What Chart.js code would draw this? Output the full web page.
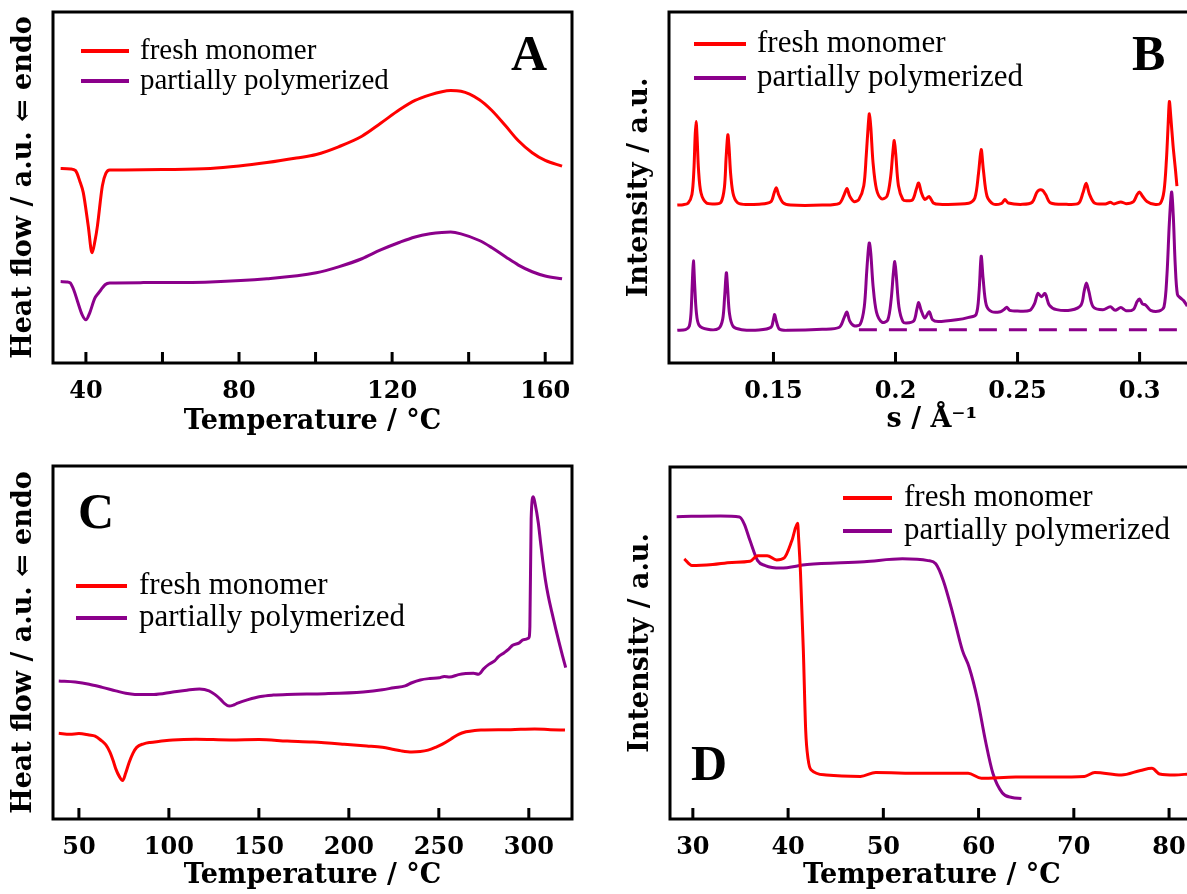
<!DOCTYPE html>
<html>
<head>
<meta charset="utf-8">
<title>DSC / SAXS panels</title>
<script src="https://cdn.jsdelivr.net/npm/chart.js@4.4.1/dist/chart.umd.min.js"></script>
<style>
  html, body { margin: 0; padding: 0; background: #fff; overflow: hidden; width: 1187px; height: 894px; }
  canvas { position: absolute; }
</style>
</head>
<body>
<canvas id="chartA" width="600" height="450" style="left:0;top:0"></canvas>
<canvas id="chartB" width="600" height="450" style="left:600px;top:0"></canvas>
<canvas id="chartC" width="600" height="444" style="left:0;top:450px"></canvas>
<canvas id="chartD" width="600" height="444" style="left:600px;top:450px"></canvas>
<script>
// labels
const seriesNames = ["fresh monomer", "partially polymerized"];
const RED = "#ff0000";
const PURPLE = "#8b008b";

// panel A - DSC, temperature (°C) vs heat flow (a.u.)
const aFreshT = [33.4, 36.0, 37.3, 38.5, 39.3, 40.6, 41.6, 42.4, 43.0, 44.3, 45.2, 46.2, 50, 60, 72.5, 80, 87.3, 95, 100.2, 106, 112.1, 117, 122, 126, 129.9, 133, 135.3, 138, 142.8, 146, 149.7, 153, 156.6, 160, 164.4];
const aFreshY = [55.4, 55.3, 54.8, 51.5, 48.6, 39.1, 31.4, 35.0, 39.0, 50.5, 54.0, 55.0, 55.0, 55.1, 55.4, 56.1, 57.1, 58.4, 59.4, 61.6, 64.6, 68.3, 72.2, 74.8, 76.4, 77.3, 77.6, 77.4, 75.0, 72.0, 67.5, 63.3, 59.9, 57.7, 56.1];
const aPartT = [33.4, 35.0, 35.9, 36.9, 37.8, 39.0, 40.0, 41.0, 42.3, 43.2, 43.9, 45.0, 46.2, 55, 72.5, 87.3, 100.2, 106, 112.1, 117, 122, 126, 129.9, 133, 135.3, 138, 142.8, 146, 149.7, 153, 156.6, 160, 164.4];
const aPartY = [23.2, 23.1, 22.8, 20.6, 17.6, 13.8, 12.3, 14.3, 18.4, 19.8, 20.8, 22.3, 22.8, 22.9, 23.1, 24.0, 25.7, 27.4, 29.7, 32.2, 34.4, 35.9, 36.8, 37.2, 37.3, 36.8, 34.9, 32.9, 30.2, 27.9, 26.0, 24.8, 24.0];

// panel B - scattering, s (1/Å) vs intensity (a.u.)
const bFreshS = [0.1106, 0.1130, 0.1150, 0.1166, 0.1174, 0.1179, 0.1183, 0.1187, 0.1193, 0.1203, 0.1225, 0.1260, 0.1285, 0.1299, 0.1306, 0.1313, 0.1318, 0.1325, 0.1337, 0.1360, 0.1450, 0.1490, 0.1503, 0.1512, 0.1521, 0.1540, 0.1570, 0.1700, 0.1770, 0.1790, 0.1801, 0.1812, 0.1830, 0.1850, 0.1870, 0.1880, 0.1888, 0.1893, 0.1899, 0.1908, 0.1922, 0.1942, 0.1965, 0.1980, 0.1989, 0.1995, 0.2001, 0.2012, 0.2030, 0.2045, 0.2070, 0.2085, 0.2095, 0.2106, 0.2120, 0.2138, 0.2155, 0.2180, 0.2300, 0.2325, 0.2340, 0.2351, 0.2360, 0.2375, 0.2400, 0.2435, 0.2448, 0.2462, 0.2520, 0.2560, 0.2578, 0.2590, 0.2602, 0.2615, 0.2635, 0.2700, 0.2750, 0.2768, 0.2781, 0.2794, 0.2815, 0.2860, 0.2880, 0.2895, 0.2923, 0.2945, 0.2975, 0.2990, 0.3000, 0.3012, 0.3030, 0.3060, 0.3085, 0.3100, 0.3110, 0.3117, 0.3122, 0.3128, 0.3137, 0.3147, 0.3153];
const bFreshI = [45.0, 45.1, 45.5, 48.0, 55.0, 64.5, 68.8, 64.5, 55.0, 48.5, 45.6, 45.3, 45.8, 50.0, 58.5, 65.0, 61.5, 53.5, 47.6, 45.4, 45.3, 46.0, 48.5, 49.9, 48.0, 45.6, 45.0, 45.0, 45.5, 48.0, 49.7, 47.6, 46.0, 46.6, 50.5, 59.0, 67.5, 71.0, 67.0, 57.0, 49.5, 46.8, 47.5, 53.0, 60.0, 63.4, 59.5, 50.5, 46.6, 46.2, 46.5, 49.5, 51.3, 48.5, 46.6, 47.4, 45.6, 45.2, 45.5, 47.0, 54.0, 60.8, 55.0, 47.5, 45.3, 45.5, 46.6, 45.6, 45.2, 45.8, 48.5, 49.3, 49.2, 48.0, 45.6, 45.2, 45.5, 48.5, 51.2, 48.2, 45.6, 45.3, 45.8, 45.3, 45.9, 45.4, 46.0, 48.0, 48.7, 47.5, 46.0, 45.2, 45.5, 49.0, 58.0, 68.0, 74.5, 70.0, 62.0, 55.0, 50.4];
const bPartS = [0.1106, 0.1140, 0.1155, 0.1162, 0.1167, 0.1172, 0.1177, 0.1184, 0.1195, 0.1230, 0.1275, 0.1292, 0.1300, 0.1307, 0.1312, 0.1320, 0.1335, 0.1370, 0.1440, 0.1490, 0.1500, 0.1505, 0.1512, 0.1525, 0.1560, 0.1700, 0.1770, 0.1790, 0.1801, 0.1812, 0.1830, 0.1855, 0.1872, 0.1882, 0.1889, 0.1893, 0.1899, 0.1908, 0.1922, 0.1945, 0.1968, 0.1982, 0.1991, 0.1997, 0.2003, 0.2014, 0.2030, 0.2045, 0.2075, 0.2088, 0.2095, 0.2105, 0.2120, 0.2138, 0.2152, 0.2175, 0.2250, 0.2300, 0.2330, 0.2342, 0.2351, 0.2359, 0.2372, 0.2395, 0.2430, 0.2446, 0.2456, 0.2468, 0.2500, 0.2550, 0.2570, 0.2583, 0.2598, 0.2613, 0.2630, 0.2660, 0.2720, 0.2760, 0.2773, 0.2782, 0.2792, 0.2810, 0.2850, 0.2880, 0.2900, 0.2923, 0.2945, 0.2975, 0.2990, 0.3000, 0.3012, 0.3025, 0.3045, 0.3080, 0.3100, 0.3112, 0.3122, 0.3131, 0.3138, 0.3146, 0.3155, 0.3168, 0.3180, 0.3195];
const bPartI = [9.3, 9.5, 10.5, 14.0, 22.0, 29.1, 22.5, 14.5, 10.8, 9.6, 9.8, 12.5, 19.0, 25.7, 21.5, 14.0, 10.4, 9.5, 9.4, 10.2, 12.5, 13.8, 11.8, 9.6, 9.3, 9.6, 10.2, 13.0, 14.5, 12.0, 10.6, 11.0, 16.0, 26.0, 32.5, 34.2, 31.0, 22.0, 14.5, 11.6, 12.2, 18.0, 25.5, 28.9, 25.0, 16.0, 11.8, 11.4, 12.0, 15.5, 17.2, 15.0, 12.8, 14.6, 12.3, 11.8, 12.3, 13.0, 13.8, 20.0, 30.4, 24.0, 16.5, 14.6, 14.6, 15.3, 15.9, 15.0, 14.8, 15.0, 17.0, 19.8, 18.9, 19.8, 16.5, 15.2, 15.1, 16.5, 20.5, 22.8, 20.5, 16.0, 15.2, 16.0, 15.0, 15.8, 14.9, 15.3, 17.5, 18.2, 16.8, 16.5, 15.0, 14.8, 16.0, 25.0, 40.0, 48.7, 42.0, 28.0, 19.5, 18.5, 17.8, 16.2];
const bBaseS = [0.1850, 0.3230];
const bBaseI = [9.5, 9.5];

// panel C - DSC up to 320 °C
const cFreshT = [38.8, 45, 50, 55.7, 59, 62.5, 65, 67.3, 69, 70.5, 72.5, 74.3, 76, 77.9, 80, 82.1, 86, 89.6, 95, 102.2, 115, 134, 150, 165.7, 180, 197.4, 210, 218.6, 225, 229.1, 235, 239.7, 244, 248.2, 252, 256.6, 261, 265.1, 270, 273.6, 290, 303.2, 312, 320.1];
const cFreshY = [24.3, 24.0, 24.2, 23.8, 23.5, 22.2, 21.0, 18.9, 16.6, 14.2, 12.0, 10.9, 13.0, 16.0, 18.6, 20.3, 21.3, 21.7, 22.0, 22.4, 22.6, 22.4, 22.5, 22.1, 21.8, 21.2, 20.7, 20.3, 19.7, 19.3, 19.0, 19.1, 19.5, 20.3, 21.2, 22.6, 24.0, 24.7, 25.1, 25.2, 25.3, 25.5, 25.3, 25.2];
const cPartT = [38.8, 48, 55.7, 63, 70.5, 76, 81.1, 91.7, 102.2, 110, 117, 122.3, 125.5, 128.7, 131, 133.5, 136, 138.2, 144, 150.9, 158, 165.7, 186.8, 208, 218.6, 225, 231.3, 235, 239.7, 245, 250.3, 253, 256, 260.9, 265, 269.3, 272, 275, 277.8, 281, 283, 286.3, 289, 291, 294.7, 297, 300, 300.6, 301.3, 302.5, 303.5, 305.3, 306.5, 307.8, 309.2, 310.8, 312.7, 315, 316.9, 318.7, 320.5];
const cPartY = [39.1, 38.8, 38.2, 37.3, 36.3, 35.6, 35.3, 35.3, 36.0, 36.5, 36.8, 36.3, 35.3, 33.9, 32.7, 32.0, 32.3, 32.8, 33.8, 34.7, 35.1, 35.3, 35.5, 36.0, 36.6, 37.2, 37.7, 38.6, 39.4, 39.8, 40.0, 40.4, 40.2, 40.9, 41.2, 41.3, 41.0, 42.6, 43.8, 44.8, 45.9, 47.1, 48.2, 49.2, 49.9, 50.8, 51.3, 54.6, 85.0, 91.3, 89.3, 83.8, 78.5, 73.0, 67.8, 63.2, 58.8, 53.8, 49.9, 46.3, 42.9];

// panel D - intensity vs temperature
const dFreshT = [29.1, 29.9, 32.1, 34.1, 36.0, 36.8, 37.8, 38.8, 39.6, 40.4, 41.0, 41.1, 41.3, 41.6, 41.85, 42.1, 42.4, 44.0, 47.6, 49.2, 53.9, 58.9, 60.3, 63.9, 67.9, 71.1, 72.2, 75.0, 77.0, 78.2, 79.0, 80.6, 82.1];
const dFreshY = [73.9, 72.0, 72.3, 72.9, 73.2, 74.8, 74.8, 73.6, 74.2, 79.1, 84.0, 80.0, 70.0, 47.9, 25.0, 17.0, 14.0, 12.5, 12.1, 13.2, 13.0, 13.0, 11.6, 11.9, 11.9, 12.1, 13.2, 12.5, 13.8, 14.4, 12.8, 12.5, 12.8];
const dPartT = [28.3, 32.9, 34.9, 35.4, 36.0, 36.8, 37.6, 39.2, 42.0, 48.0, 52.0, 54.7, 55.5, 56.3, 57.3, 58.3, 59.0, 59.9, 60.7, 61.5, 62.5, 63.5, 64.5];
const dPartY = [85.9, 86.1, 85.8, 83.8, 79.1, 73.4, 72.0, 71.3, 72.3, 73.1, 73.9, 73.4, 72.5, 67.7, 58.3, 47.9, 43.2, 33.8, 22.5, 13.0, 7.4, 6.1, 5.8];

function pts(xs, ys) {
  return xs.map((x, i) => ({ x: x, y: ys[i] }));
}

function line(label, xs, ys, color, extra) {
  return Object.assign({
    label: label,
    data: pts(xs, ys),
    borderColor: color,
    borderWidth: 3,
    pointRadius: 0,
    fill: false,
    cubicInterpolationMode: "monotone"
  }, extra || {});
}

// frame, inward ticks, legend and panel letter
const panelDeco = {
  id: "panelDeco",
  afterDatasetsDraw(chart, args, opts) {
    const ctx = chart.ctx;
    const ca = chart.chartArea;
    const xs = chart.scales.x;
    ctx.save();
    ctx.setLineDash([]);
    ctx.strokeStyle = "#000";
    ctx.lineWidth = 3;
    ctx.beginPath();
    xs.ticks.forEach(t => {
      const px = xs.getPixelForValue(t.value);
      ctx.moveTo(px, ca.bottom);
      ctx.lineTo(px, ca.bottom - 11);
    });
    ctx.stroke();
    ctx.strokeRect(ca.left, ca.top, ca.right - ca.left, ca.bottom - ca.top);

    ctx.font = opts.legendSize + 'px "Liberation Serif"';
    ctx.textBaseline = "middle";
    ctx.fillStyle = "#000";
    let row = 0;
    chart.data.datasets.forEach(ds => {
      if (!ds.label) return;
      const y = opts.legendY + row * opts.legendGap;
      ctx.strokeStyle = ds.borderColor;
      ctx.lineWidth = 4;
      ctx.beginPath();
      ctx.moveTo(opts.legendX, y);
      ctx.lineTo(opts.legendX + opts.legendLen, y);
      ctx.stroke();
      ctx.fillText(ds.label, opts.textX, y);
      row++;
    });

    ctx.font = 'bold 50px "Liberation Serif"';
    ctx.textBaseline = "alphabetic";
    ctx.fillText(opts.letter, opts.letterX, opts.letterY);
    ctx.restore();
  }
};

const tickFont = { family: "DejaVu Serif", weight: "bold", size: 24 };
const titleFont = { family: "DejaVu Serif", weight: "bold", size: 27 };

function makePanel(id, p) {
  return new Chart(document.getElementById(id), {
    type: "line",
    data: { datasets: p.datasets },
    options: {
      responsive: false,
      animation: false,
      devicePixelRatio: 1,
      layout: { padding: p.pad },
      plugins: {
        legend: { display: false },
        tooltip: { enabled: false },
        panelDeco: p.deco
      },
      scales: {
        x: {
          type: "linear",
          min: p.xMin,
          max: p.xMax,
          afterFit: s => { s.height = p.xHeight; },
          grid: { display: false, drawTicks: false },
          border: { display: false },
          ticks: {
            stepSize: p.step,
            includeBounds: false,
            autoSkip: false,
            maxRotation: 0,
            padding: 14,
            color: "#000",
            font: tickFont,
            callback: p.tickLabel
          },
          title: { display: true, text: p.xTitle, color: "#000", font: titleFont, padding: { top: 0, bottom: p.xTitlePad } }
        },
        y: {
          min: 0,
          max: 100,
          afterFit: s => { s.width = p.yWidth; },
          grid: { display: false, drawTicks: false },
          border: { display: false },
          ticks: { display: false },
          title: { display: true, text: p.yTitle, color: "#000", font: titleFont, padding: { top: p.yTitlePad, bottom: 0 } }
        }
      }
    },
    plugins: [panelDeco]
  });
}

makePanel("chartA", {
  datasets: [
    line(seriesNames[0], aFreshT, aFreshY, RED),
    line(seriesNames[1], aPartT, aPartY, PURPLE)
  ],
  xMin: 31.4, xMax: 167, step: 20,
  tickLabel: v => (v % 40 === 0 ? String(v) : ""),
  xTitle: "Temperature / °C", yTitle: "Heat flow / a.u. ⇐ endo",
  pad: { left: 0, right: 28, top: 12, bottom: 0 },
  xHeight: 87, yWidth: 53, xTitlePad: 12, yTitlePad: 8,
  deco: { letter: "A", letterX: 511, letterY: 70, legendX: 81, legendLen: 48, legendY: 51, legendGap: 30, textX: 140, legendSize: 29 }
});

makePanel("chartB", {
  datasets: [
    line(seriesNames[0], bFreshS, bFreshI, RED, { cubicInterpolationMode: "default", tension: 0.3 }),
    line(seriesNames[1], bPartS, bPartI, PURPLE, { cubicInterpolationMode: "default", tension: 0.3 }),
    line("", bBaseS, bBaseI, PURPLE, { borderDash: [18, 12], cubicInterpolationMode: "default" })
  ],
  xMin: 0.1072, xMax: 0.3227, step: 0.05,
  tickLabel: v => String(+v.toFixed(2)),
  xTitle: "s / Å⁻¹", yTitle: "Intensity / a.u.",
  pad: { left: 0, right: 5, top: 12, bottom: 0 },
  xHeight: 87, yWidth: 69, xTitlePad: 14, yTitlePad: 24,
  deco: { letter: "B", letterX: 532, letterY: 70, legendX: 94, legendLen: 52, legendY: 44, legendGap: 34, textX: 157, legendSize: 31 }
});

makePanel("chartC", {
  datasets: [
    line(seriesNames[0], cFreshT, cFreshY, RED),
    line(seriesNames[1], cPartT, cPartY, PURPLE)
  ],
  xMin: 35.6, xMax: 324, step: 50,
  tickLabel: v => String(v),
  xTitle: "Temperature / °C", yTitle: "Heat flow / a.u. ⇐ endo",
  pad: { left: 0, right: 28, top: 16, bottom: 0 },
  xHeight: 75, yWidth: 53, xTitlePad: 2, yTitlePad: 8,
  deco: { letter: "C", letterX: 78, letterY: 78, legendX: 76, legendLen: 51, legendY: 136, legendGap: 32, textX: 139, legendSize: 31 }
});

makePanel("chartD", {
  datasets: [
    line(seriesNames[0], dFreshT, dFreshY, RED),
    line(seriesNames[1], dPartT, dPartY, PURPLE)
  ],
  xMin: 27.6, xMax: 82.6, step: 10,
  tickLabel: v => String(v),
  xTitle: "Temperature / °C", yTitle: "Intensity / a.u.",
  pad: { left: 0, right: 5, top: 17, bottom: 0 },
  xHeight: 75, yWidth: 70, xTitlePad: 2, yTitlePad: 25,
  deco: { letter: "D", letterX: 91, letterY: 330, legendX: 243, legendLen: 49, legendY: 48, legendGap: 33, textX: 304, legendSize: 31 }
});
</script>
</body>
</html>
